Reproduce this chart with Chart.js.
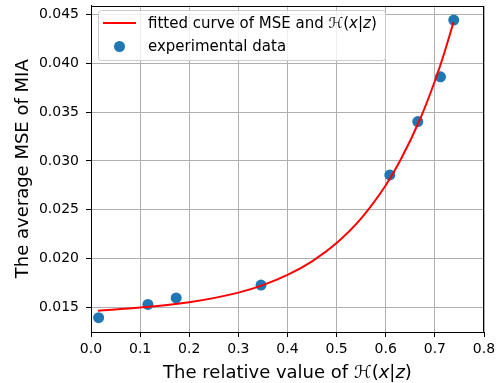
<!DOCTYPE html>
<html>
<head>
<meta charset="utf-8">
<script src="https://cdn.jsdelivr.net/npm/chart.js@4.4.0/dist/chart.umd.min.js"></script>
<style>
  html, body { margin: 0; padding: 0; background: #fff; }
  #wrap { width: 500px; height: 383px; }
</style>
</head>
<body>
<div id="wrap"><canvas id="chart" width="500" height="383"></canvas></div>
<script>
// fitted curve
const curveX = [0.014, 0.10, 0.20, 0.30, 0.35, 0.40, 0.45, 0.50, 0.55, 0.60, 0.63, 0.67, 0.70, 0.72, 0.738];
const curveY = [0.01466, 0.01498, 0.01552, 0.01651, 0.01728, 0.01832, 0.01972, 0.02160, 0.02412, 0.02751, 0.03009, 0.03429, 0.03818, 0.04118, 0.04421];

// experimental data points
const expX = [0.0155, 0.1158, 0.1734, 0.3461, 0.6083, 0.6652, 0.7114, 0.7384];
const expY = [0.01395, 0.0153, 0.01597, 0.01729, 0.02856, 0.03403, 0.03861, 0.04442];

const curveLabel = "fitted curve of MSE and ";
const dataLabel = "experimental data";
const xTitle = "The relative value of ";
const yTitle = "The average MSE of MIA";

const FONT = "'DejaVu Sans', sans-serif";
const RED = "#ff0000";
const BLUE = "#1f77b4";

// text pieces for the H(x|z) bit, italic where mathtext is italic
function hxz(size) {
  return [
    { t: "\u210B", f: "italic " + size + "px " + FONT },
    { t: "(", f: size + "px " + FONT },
    { t: "x", f: "italic " + size + "px " + FONT },
    { t: "|", f: size + "px " + FONT },
    { t: "z", f: "italic " + size + "px " + FONT },
    { t: ")", f: size + "px " + FONT },
  ];
}

function drawPieces(ctx, pieces, x, y, align) {
  let total = 0;
  pieces.forEach((p) => { ctx.font = p.f; total += ctx.measureText(p.t).width; });
  let cx = align === "center" ? x - total / 2 : x;
  ctx.textAlign = "left";
  ctx.textBaseline = "alphabetic";
  pieces.forEach((p) => {
    ctx.font = p.f;
    ctx.fillText(p.t, cx, y);
    cx += ctx.measureText(p.t).width;
  });
}

const extras = {
  id: "extras",
  afterDraw(chart) {
    const ctx = chart.ctx;
    const a = chart.chartArea;
    ctx.save();

    // spines on all four sides
    ctx.strokeStyle = "#000";
    ctx.lineWidth = 1;
    ctx.strokeRect(Math.round(a.left) + 0.5, Math.round(a.top) + 0.5,
      Math.round(a.right - a.left) - 1, Math.round(a.bottom - a.top) - 1);

    // axis titles
    ctx.fillStyle = "#000";
    drawPieces(ctx, [{ t: xTitle, f: "18px " + FONT }].concat(hxz(18)),
      (a.left + a.right) / 2, 378, "center");

    ctx.save();
    ctx.translate(28, (a.top + a.bottom) / 2);
    ctx.rotate(-Math.PI / 2);
    drawPieces(ctx, [{ t: yTitle, f: "18px " + FONT }], 0, 0, "center");
    ctx.restore();

    // legend box
    const bx = 98.5, by = 10.5, bw = 287, bh = 50, r = 3;
    ctx.beginPath();
    ctx.moveTo(bx + r, by);
    ctx.arcTo(bx + bw, by, bx + bw, by + bh, r);
    ctx.arcTo(bx + bw, by + bh, bx, by + bh, r);
    ctx.arcTo(bx, by + bh, bx, by, r);
    ctx.arcTo(bx, by, bx + bw, by, r);
    ctx.closePath();
    ctx.fillStyle = "rgba(255,255,255,0.8)";
    ctx.fill();
    ctx.strokeStyle = "#cccccc";
    ctx.lineWidth = 1;
    ctx.stroke();

    ctx.strokeStyle = RED;
    ctx.lineWidth = 2;
    ctx.beginPath();
    ctx.moveTo(103, 23);
    ctx.lineTo(136, 23);
    ctx.stroke();

    ctx.fillStyle = BLUE;
    ctx.beginPath();
    ctx.arc(119.5, 46.5, 5.5, 0, Math.PI * 2);
    ctx.fill();

    ctx.fillStyle = "#000";
    drawPieces(ctx, [{ t: curveLabel, f: "15px " + FONT }].concat(hxz(15)), 148, 28, "left");
    drawPieces(ctx, [{ t: dataLabel, f: "15px " + FONT }], 148, 51, "left");

    ctx.restore();
  },
};

function noPad(scale) {
  scale.paddingTop = 0;
  scale.paddingBottom = 0;
  scale.paddingLeft = 0;
  scale.paddingRight = 0;
}

new Chart(document.getElementById("chart"), {
  type: "scatter",
  data: {
    datasets: [
      {
        label: curveLabel,
        data: curveX.map((x, i) => ({ x: x, y: curveY[i] })),
        showLine: true,
        borderColor: RED,
        borderWidth: 2,
        pointRadius: 0,
        cubicInterpolationMode: "monotone",
        fill: false,
      },
      {
        label: dataLabel,
        data: expX.map((x, i) => ({ x: x, y: expY[i] })),
        backgroundColor: BLUE,
        borderWidth: 0,
        pointRadius: 5.5,
      },
    ],
  },
  options: {
    responsive: false,
    animation: false,
    devicePixelRatio: 1,
    layout: { padding: { left: 0, right: 16, top: 2, bottom: 0 } },
    plugins: { legend: { display: false }, tooltip: { enabled: false } },
    scales: {
      x: {
        type: "linear",
        min: 0,
        max: 0.8,
        afterFit: (s) => { s.height = 51; noPad(s); },
        ticks: {
          stepSize: 0.1,
          includeBounds: false,
          color: "#000",
          padding: 4,
          maxRotation: 0,
          font: { family: FONT, size: 14 },
          callback: (v) => v.toFixed(1),
        },
        grid: { color: "#b0b0b0", lineWidth: 1, tickColor: "#000", tickLength: 5 },
        border: { color: "#000", width: 1 },
      },
      y: {
        type: "linear",
        min: 0.01248,
        max: 0.04591,
        afterFit: (s) => { s.width = 91; noPad(s); },
        ticks: {
          stepSize: 0.005,
          includeBounds: false,
          color: "#000",
          padding: 7,
          font: { family: FONT, size: 14 },
          callback: (v) => v.toFixed(3),
        },
        grid: { color: "#b0b0b0", lineWidth: 1, tickColor: "#000", tickLength: 5 },
        border: { color: "#000", width: 1 },
      },
    },
  },
  plugins: [extras],
});
</script>
</body>
</html>
